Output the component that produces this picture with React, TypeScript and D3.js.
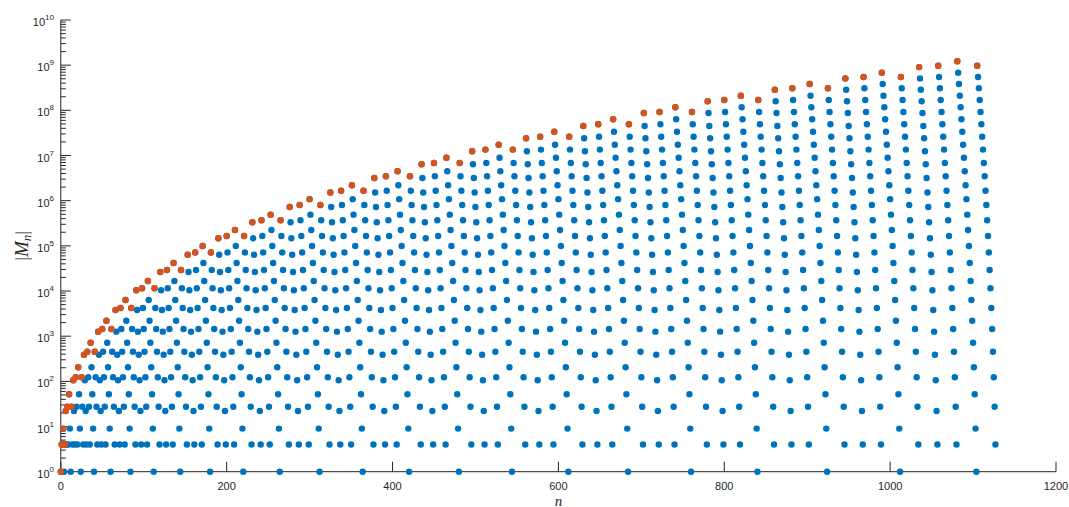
import React from 'react';
import * as d3 from 'd3';

// n at which each "single" column ends (|M_n| = 1 there)
const sBottoms = [0, 4, 12, 24, 40, 60, 84, 112, 144, 180, 220, 264, 312, 364, 420, 480, 544, 612, 684, 760, 840, 924, 1012, 1104];
const lastN = 1127;

// |M_n| levels, from the bottom of a column upward
const levelsLR = [4, 27.5, 123, 454, 1442, 4207, 1.15e4, 2.92e4, 7.13e4, 1.65e5, 3.68e5, 8.02e5, 1.66e6, 3.47e6, 6.82e6, 1.35e7, 2.61e7, 4.91e7, 9.2e7, 1.69e8, 3.08e8, 5.48e8, 9.73e8];
const levelsM = [4, 22, 106, 389, 1259, 3802, 1.04e4, 2.64e4, 6.37e4, 1.47e5, 3.33e5, 7.26e5, 1.52e6, 3.18e6, 6.4e6, 1.24e7, 2.41e7, 4.51e7, 8.75e7, 1.59e8, 2.86e8, 5.09e8, 9.06e8];
const levelsS = [1, 9, 52, 205, 718, 2203, 6324, 1.67e4, 4.17e4, 9.93e4, 2.24e5, 4.9e5, 1.08e6, 2.19e6, 4.47e6, 8.93e6, 1.73e7, 3.37e7, 6.34e7, 1.17e8, 2.11e8, 3.83e8, 6.81e8, 1.22e9];

const xTicks = [0, 200, 400, 600, 800, 1000, 1200];
const yTickExps = [0, 1, 2, 3, 4, 5, 6, 7, 8, 9, 10];

const W = 1069, H = 507;
const L = 60.8, R = 1056, T = 20, B = 471.7;
const BLUE = '#0072BD', ORANGE = '#D95319', AX = '#262626';

type Pt = { n: number; v: number; top: boolean };

function buildPoints(): Pt[] {
  const cols: { type: 'L' | 'M' | 'R' | 'S'; top: number; bottom: number }[] = [];
  cols.push({ type: 'S', top: 0, bottom: 0 });
  const add = (type: 'L' | 'M' | 'R' | 'S', top: number, bottom: number) => {
    const b = Math.min(bottom, lastN);
    if (top <= b) cols.push({ type, top, bottom: b });
  };
  for (let i = 1; i <= sBottoms.length; i++) {
    const a = sBottoms[i - 1];
    const m = i < sBottoms.length ? (sBottoms[i] - a) / 4 : (a - sBottoms[i - 2]) / 4 + 1;
    add('L', a + 1, a + m - 1);
    add('M', a + m, a + 2 * m - 1);
    add('R', a + 2 * m, a + 3 * m - 1);
    add('S', a + 3 * m, a + 4 * m);
  }
  const pts: Pt[] = [];
  for (const c of cols) {
    const lv = c.type === 'S' ? levelsS : c.type === 'M' ? levelsM : levelsLR;
    for (let n = c.top; n <= c.bottom; n++) {
      pts.push({ n, v: lv[c.bottom - n], top: n === c.top });
    }
  }
  return pts;
}

export default function App() {
  const x = d3.scaleLinear().domain([0, 1200]).range([L, R]);
  const y = d3.scaleLog().domain([1, 1e10]).range([B, T]);
  const pts = buildPoints();
  const minor: number[] = [];
  for (let k = 0; k < 10; k++) for (let d = 2; d <= 9; d++) minor.push(d * Math.pow(10, k));
  const font = '"Liberation Sans", Arial, Helvetica, sans-serif';
  const serif = '"Liberation Serif", "DejaVu Serif", serif';
  return (
    <svg width={W} height={H} style={{ position: 'absolute', left: 0, top: 0, background: '#fff' }}>
      <rect x={0} y={0} width={W} height={H} fill="#fff" />
      {/* axes */}
      <line x1={L} y1={T} x2={L} y2={B} stroke={AX} strokeWidth={1} />
      <line x1={L} y1={B} x2={R} y2={B} stroke={AX} strokeWidth={1} />
      {xTicks.map((t) => (
        <g key={'xt' + t}>
          <line x1={x(t)} x2={x(t)} y1={B} y2={B - 10} stroke={AX} strokeWidth={1} />
          <text x={x(t)} y={489.5} textAnchor="middle" fontSize={11} fontFamily={font} fill={AX}>{t}</text>
        </g>
      ))}
      {yTickExps.map((e) => (
        <g key={'yt' + e}>
          <line x1={L} x2={L + 10} y1={y(Math.pow(10, e))} y2={y(Math.pow(10, e))} stroke={AX} strokeWidth={1} />
          <text x={54} y={y(Math.pow(10, e)) + 6} textAnchor="end" fontSize={11} fontFamily={font} fill={AX}>
            10<tspan fontSize={8} dy={-6}>{e}</tspan>
          </text>
        </g>
      ))}
      {minor.map((v) => (
        <line key={'ym' + v} x1={L} x2={L + 5} y1={y(v)} y2={y(v)} stroke={AX} strokeWidth={1} />
      ))}
      {/* points */}
      {pts.map((p) => (
        <circle key={'b' + p.n} cx={x(p.n)} cy={y(p.v)} r={3.2} fill={BLUE} />
      ))}
      {pts.filter((p) => p.top).map((p) => (
        <circle key={'o' + p.n} cx={x(p.n)} cy={y(p.v)} r={3.2} fill={ORANGE} />
      ))}
      {/* labels */}
      <text x={(L + R) / 2} y={505.5} textAnchor="middle" fontSize={15} fontStyle="italic" fontFamily={serif} fill={AX}>n</text>
      <text transform={`translate(28, ${(T + B) / 2}) rotate(-90)`} textAnchor="middle" fontSize={19} fontFamily={serif} fill={AX}>
        |<tspan fontStyle="italic">M</tspan><tspan fontStyle="italic" fontSize={13} dy={3}>n</tspan><tspan dy={-3}>|</tspan>
      </text>
    </svg>
  );
}
